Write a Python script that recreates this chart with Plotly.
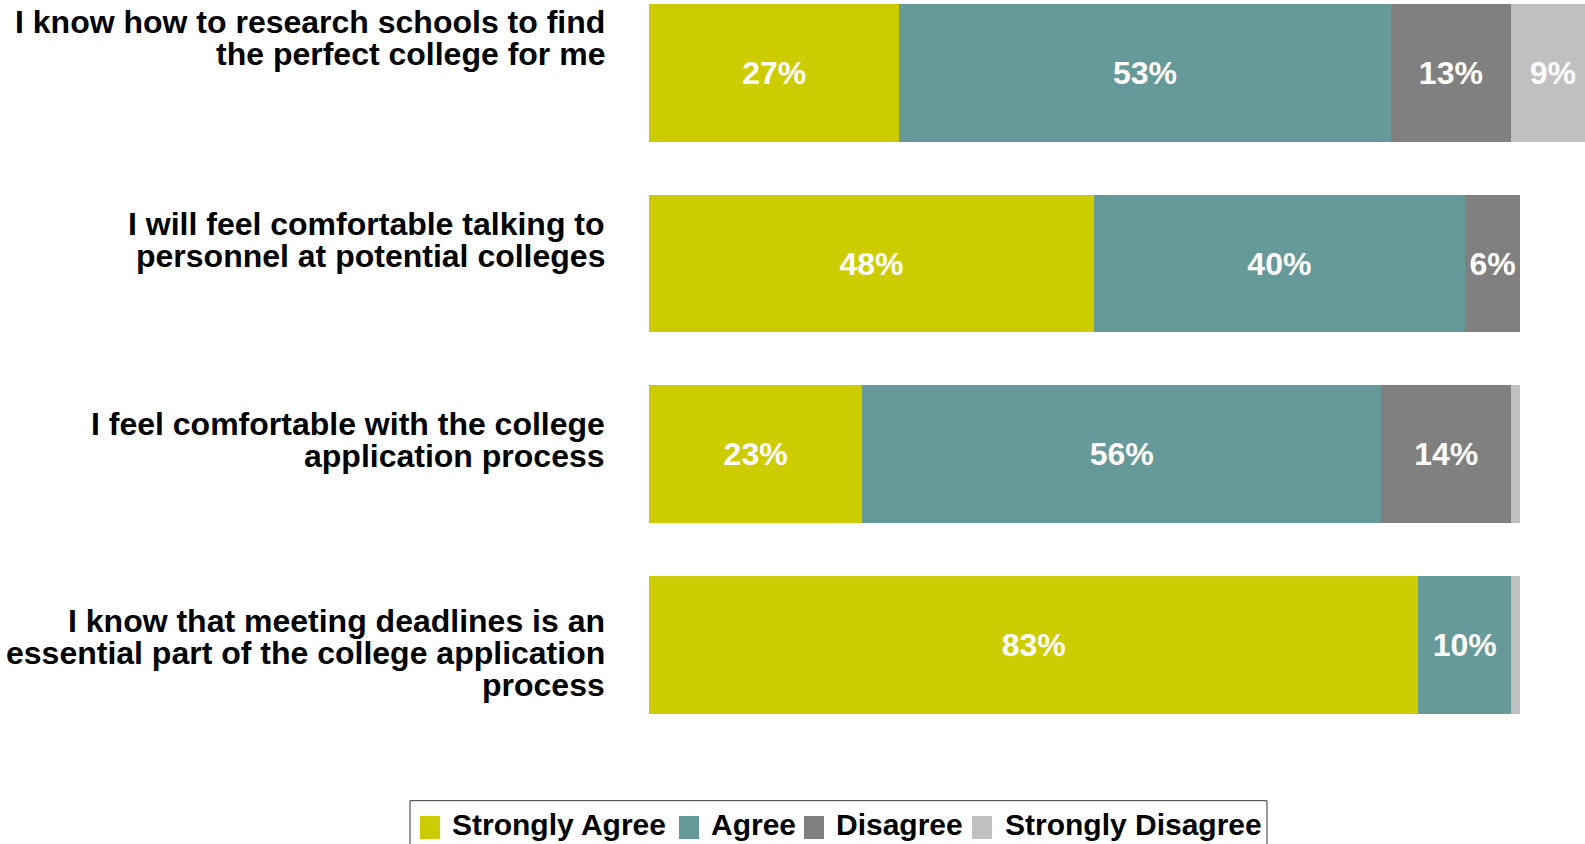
import plotly.graph_objects as go

# ---- data ----
categories = [
    "I know how to research schools to find the perfect college for me",
    "I will feel comfortable talking to personnel at potential colleges",
    "I feel comfortable with the college application process",
    "I know that meeting deadlines is an essential part of the college application process",
]
label_lines = [
    ["I know how to research schools to find", "the perfect college for me"],
    ["I will feel comfortable talking to", "personnel at potential colleges"],
    ["I feel comfortable with the college", "application process"],
    ["I know that meeting deadlines is an", "essential part of the college application", "process"],
]
series_names = ["Strongly Agree", "Agree", "Disagree", "Strongly Disagree"]
strongly_agree = [27, 48, 23, 83]
agree = [53, 40, 56, 10]
disagree = [13, 6, 14, 0]
strongly_disagree = [9, 0, 1, 1]
series_values = [strongly_agree, agree, disagree, strongly_disagree]
colors = ["#CCCC00", "#669999", "#808080", "#C0C0C0"]

# ---- layout constants ----
W, H = 1585, 844
ML, MR, MT, MB = 649, 0, 0, 104
PH = H - MT - MB
PW = W - ML - MR


def px_x(px):
    return (px - ML) / PW


def px_y(py):
    return 1 - (py - MT) / PH


label_font = dict(family="Liberation Sans, Arial, sans-serif", size=32, color="#000000", weight="bold")
first_line_px = [22.2, 223.8, 424.0, 620.5]
line_step = 32.3

fig = go.Figure()
for name, vals, col in zip(series_names, series_values, colors):
    fig.add_trace(go.Bar(
        y=categories, x=vals, orientation="h", name=name,
        marker=dict(color=col, line=dict(width=0)),
        text=[f"{v}%" if v >= 5 else "" for v in vals],
        textposition="inside", insidetextanchor="middle",
        textfont=dict(family="Liberation Sans, Arial, sans-serif", size=32, color="white", weight="bold"),
        constraintext="none",
        showlegend=False, hoverinfo="skip",
    ))

annotations = []
for i, lines in enumerate(label_lines):
    for j, line in enumerate(lines):
        py = first_line_px[i] + j * line_step
        annotations.append(dict(
            text=line, xref="paper", yref="paper",
            x=px_x(607), y=px_y(py),
            xanchor="right", yanchor="middle", showarrow=False,
            font=label_font,
        ))

# ---- manual legend (box, swatches, labels) ----
shapes = [dict(type="rect", xref="paper", yref="paper",
               x0=px_x(410), x1=px_x(1267), y0=px_y(800.7), y1=px_y(860),
               line=dict(color="#333333", width=1), fillcolor="white", layer="above")]
swatch_left_px = [420, 679, 804, 972]
text_left_px = [450, 709, 834, 1003]
legend_font = dict(family="Liberation Sans, Arial, sans-serif", size=30, color="#000000", weight="bold")
for name, col, sx, tx in zip(series_names, colors, swatch_left_px, text_left_px):
    shapes.append(dict(type="rect", xref="paper", yref="paper",
                       x0=px_x(sx), x1=px_x(sx + 20), y0=px_y(816), y1=px_y(839),
                       line=dict(width=0), fillcolor=col, layer="above"))
    annotations.append(dict(
        text=name, xref="paper", yref="paper",
        x=px_x(tx), y=px_y(824), xanchor="left", yanchor="middle",
        showarrow=False, font=legend_font,
    ))

fig.update_layout(
    width=W, height=H,
    margin=dict(l=ML, r=MR, t=MT, b=MB, autoexpand=False),
    paper_bgcolor="white", plot_bgcolor="white",
    barmode="stack", bargap=0.278,
    showlegend=False,
    hovermode=False,
    xaxis=dict(range=[0, 100.97], visible=False, fixedrange=True),
    yaxis=dict(type="category", categoryarray=categories, range=[3.4993, -0.3821],
               showticklabels=False, showgrid=False, zeroline=False, showline=False, ticks="",
               fixedrange=True),
    annotations=annotations,
    shapes=shapes,
)
fig.write_html("out.html", config={"displayModeBar": False},
               post_script="document.body.style.margin='0';")
